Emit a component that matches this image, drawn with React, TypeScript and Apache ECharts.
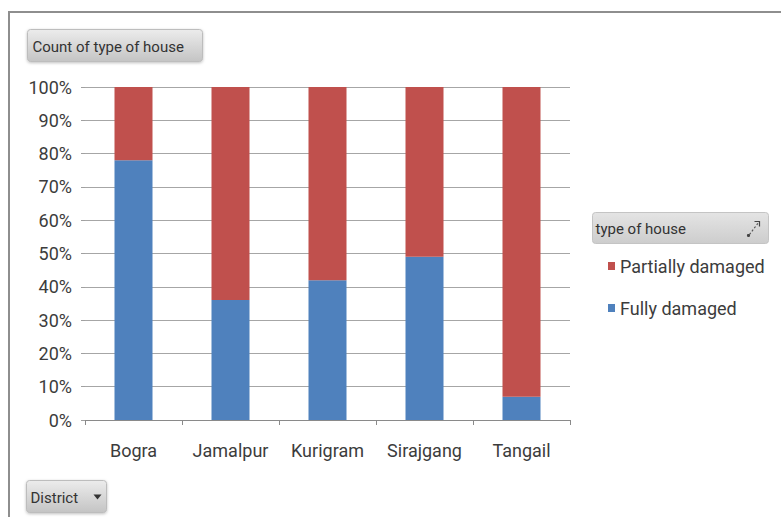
import React, { useEffect, useRef } from "react";
import * as echarts from "echarts";

// Share of houses by damage type in each district (percent of count)
const districts = ["Bogra", "Jamalpur", "Kurigram", "Sirajgang", "Tangail"];
const fullyDamaged = [78, 36, 42, 49, 7];
const partiallyDamaged = [22, 64, 58, 51, 93];
const seriesNames = ["Partially damaged", "Fully damaged"];
const valueAxisTicks = [0, 10, 20, 30, 40, 50, 60, 70, 80, 90, 100];

const FONT = "Roboto, 'Liberation Sans', sans-serif";
const TEXT = "#3c3c3c";

const buttonFill = () =>
  new echarts.graphic.LinearGradient(0, 0, 0, 1, [
    { offset: 0, color: "#ececec" },
    { offset: 1, color: "#c4c4c4" },
  ]);

export default function App() {
  const ref = useRef<HTMLDivElement>(null);

  useEffect(() => {
    if (!ref.current) return;
    const chart = echarts.init(ref.current, null, { renderer: "svg" });
    chart.setOption({
      animation: false,
      backgroundColor: "#ffffff",
      textStyle: { fontFamily: FONT },
      grid: { left: 85, right: 211, top: 87, bottom: 97 },
      legend: {
        data: seriesNames,
        orient: "vertical",
        left: 608,
        top: 256,
        padding: 0,
        icon: "rect",
        itemWidth: 7,
        itemHeight: 8,
        itemGap: 22,
        textStyle: { fontFamily: FONT, fontSize: 18, color: TEXT, lineHeight: 20 },
      },
      xAxis: {
        type: "category",
        data: districts,
        axisLine: { lineStyle: { color: "#8a8a8a", width: 1 } },
        axisTick: { show: true, length: 5, lineStyle: { color: "#8a8a8a" } },
        axisLabel: { interval: 0, fontFamily: FONT, fontSize: 18, color: TEXT, margin: 21 },
      },
      yAxis: {
        type: "value",
        min: valueAxisTicks[0],
        max: valueAxisTicks[valueAxisTicks.length - 1],
        interval: valueAxisTicks[1] - valueAxisTicks[0],
        axisLine: { show: false },
        axisTick: { show: true, length: 4, lineStyle: { color: "#a0a0a0" } },
        splitLine: { lineStyle: { color: "#a6a6a6", width: 1 } },
        axisLabel: {
          fontFamily: FONT,
          fontSize: 18,
          color: TEXT,
          margin: 13,
          formatter: (v: number) => `${v}%`,
        },
      },
      series: [
        {
          name: "Fully damaged",
          type: "bar",
          stack: "share",
          barWidth: 38,
          data: fullyDamaged,
          itemStyle: { color: "#4F81BD" },
        },
        {
          name: "Partially damaged",
          type: "bar",
          stack: "share",
          barWidth: 38,
          data: partiallyDamaged,
          itemStyle: { color: "#C0504D" },
        },
      ],
      graphic: [
        // chart frame (top and left edges)
        {
          type: "polyline",
          shape: { points: [[9, 517], [9, 12], [781, 12]] },
          style: { stroke: "#8e8e8e", lineWidth: 2, fill: "none" },
          silent: true,
        },
        // value field button
        {
          type: "group",
          left: 27,
          top: 29,
          children: [
            {
              type: "rect",
              shape: { x: 0, y: 0, width: 175, height: 32, r: 3 },
              style: {
                fill: buttonFill(),
                stroke: "#bdbdbd",
                lineWidth: 1,
                shadowBlur: 3,
                shadowColor: "rgba(0,0,0,0.25)",
                shadowOffsetY: 1,
              },
            },
            {
              type: "text",
              x: 5,
              y: 17,
              style: {
                text: "Count of type of house",
                font: `15px ${FONT}`,
                fill: "#333333",
                verticalAlign: "middle",
              },
            },
          ],
        },
        // axis field button
        {
          type: "group",
          left: 26,
          top: 480,
          children: [
            {
              type: "rect",
              shape: { x: 0, y: 0, width: 80, height: 32, r: 3 },
              style: {
                fill: buttonFill(),
                stroke: "#bdbdbd",
                lineWidth: 1,
                shadowBlur: 3,
                shadowColor: "rgba(0,0,0,0.25)",
                shadowOffsetY: 1,
              },
            },
            {
              type: "text",
              x: 4,
              y: 17,
              style: {
                text: "District",
                font: `15px ${FONT}`,
                fill: "#333333",
                verticalAlign: "middle",
              },
            },
            {
              type: "polygon",
              shape: { points: [[67, 14], [75, 14], [71, 19]] },
              style: { fill: "#333333" },
            },
          ],
        },
        // legend field header
        {
          type: "group",
          left: 592,
          top: 212,
          children: [
            {
              type: "rect",
              shape: { x: 0, y: 0, width: 176, height: 31, r: 3 },
              style: {
                fill: new echarts.graphic.LinearGradient(0, 0, 0, 1, [
                  { offset: 0, color: "#e4e4e4" },
                  { offset: 1, color: "#cdcdcd" },
                ]),
                stroke: "#c4c4c4",
                lineWidth: 1,
              },
            },
            {
              type: "text",
              x: 3,
              y: 16,
              style: {
                text: "type of house",
                font: `15px ${FONT}`,
                fill: "#333333",
                verticalAlign: "middle",
              },
            },
            {
              type: "line",
              shape: { x1: 157, y1: 22, x2: 166, y2: 10 },
              style: { stroke: "#555555", lineWidth: 1.2, lineDash: [2, 2] },
            },
            {
              type: "polyline",
              shape: { points: [[162, 9], [167, 9], [167, 14]] },
              style: { stroke: "#444444", lineWidth: 1.2, fill: "none" },
            },
            {
              type: "circle",
              shape: { cx: 156, cy: 23, r: 1.6 },
              style: { fill: "#444444" },
            },
          ],
        },
      ],
    });
    return () => chart.dispose();
  }, []);

  return (
    <div
      ref={ref}
      style={{ position: "fixed", left: 0, top: 0, width: 781, height: 517, background: "#fff" }}
    />
  );
}
